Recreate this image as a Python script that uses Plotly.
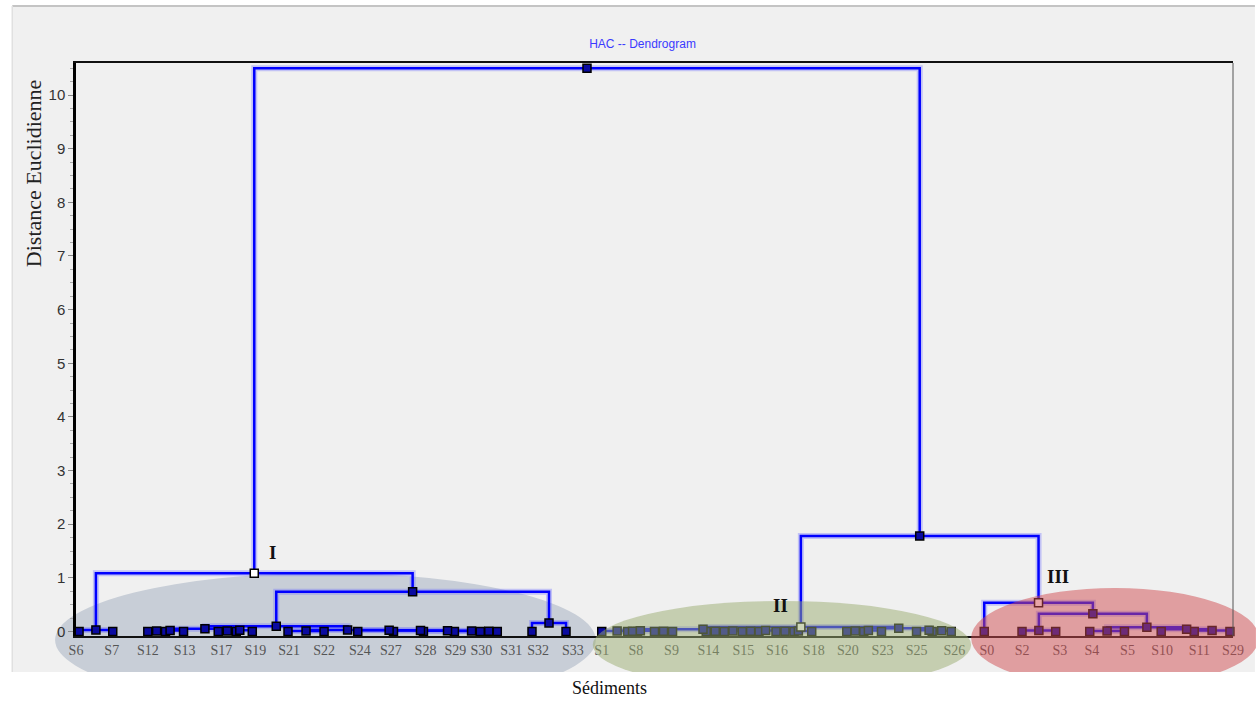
import plotly.graph_objects as go

# ---------------- data ----------------
# leaf positions along the x axis (label-spacing units), in dendrogram order
leaf_pos = [0.09, 1.08, 2.11, 2.63, 3.16, 4.18, 4.71, 5.18, 6.23, 7.29, 8.28, 9.33,
            10.21, 11.12, 11.88, 12.38, 13.40, 14.40,
            15.45, 16.21, 16.50, 17.00, 17.53, 18.52, 19.05, 19.58, 20.07, 20.57,
            21.10, 21.62, 22.65, 23.15, 23.67, 24.70, 25.16, 25.72,
            26.69, 27.80, 28.79, 29.79, 30.81, 31.89, 32.86, 33.91]

# linkage (scipy style: ids < n_leaves are leaves, id n_leaves+k is merge k)
merge_left = [0, 2, 45, 5, 47, 46, 8, 14, 13, 12, 11, 10, 50, 49, 16, 57, 44,
              19, 18, 21, 62, 23, 25, 65, 27, 68, 67, 64, 30, 72, 34, 33, 73, 71,
              37, 39, 42, 41, 79, 78, 36, 77, 60]
merge_right = [1, 3, 4, 6, 7, 48, 9, 15, 51, 52, 53, 54, 55, 56, 17, 58, 59,
               20, 61, 22, 63, 24, 26, 66, 28, 29, 69, 70, 31, 32, 35, 74, 75, 76,
               38, 40, 43, 80, 81, 82, 83, 84, 85]
merge_height = [0.03, 0.01, 0.02, 0.01, 0.025, 0.05, 0.01, 0.005, 0.01, 0.015, 0.02,
                0.025, 0.03, 0.10, 0.16, 0.74, 1.085,
                0.005, 0.01, 0.005, 0.015, 0.005, 0.005, 0.01, 0.005, 0.01, 0.02,
                0.04, 0.01, 0.02, 0.015, 0.025, 0.06, 0.085,
                0.02, 0.01, 0.02, 0.04, 0.08, 0.33, 0.535, 1.78, 10.5]

highlight_nodes = [60, 77, 84]   # cluster roots I, II, III

tick_labels = ["S6", "S7", "S12", "S13", "S17", "S19", "S21", "S22", "S24", "S27",
               "S28", "S29", "S30", "S31", "S32", "S33", "S1", "S8", "S9", "S14",
               "S15", "S16", "S18", "S20", "S23", "S25", "S26", "S0", "S2", "S3",
               "S4", "S5", "S10", "S11", "S29"]
tick_pos = [0.0, 1.05, 2.11, 3.19, 4.27, 5.27, 6.26, 7.29, 8.34, 9.25, 10.27,
            11.15, 11.91, 12.79, 13.58, 14.60, 15.45, 16.45, 17.50, 18.58, 19.61,
            20.60, 21.68, 22.68, 23.70, 24.70, 25.81, 26.77, 27.80, 28.91, 29.85,
            30.90, 31.92, 33.01, 34.0]

cluster_names = ["I", "II", "III"]
cluster_label_x = [5.76, 20.69, 28.85]
cluster_label_y = [1.48, 0.49, 1.03]

# ---------------- build dendrogram geometry ----------------
n = len(leaf_pos)
node_x = list(leaf_pos)
node_y = [0.0] * n
lx, ly = [], []
for l, r, h in zip(merge_left, merge_right, merge_height):
    xl, xr = node_x[l], node_x[r]
    lx += [xl, xl, xr, xr, None]
    ly += [node_y[l], h, h, node_y[r], None]
    node_x.append((xl + xr) / 2)
    node_y.append(h)

fill = ["#ffffff" if i in highlight_nodes else "#0a0aa0" for i in range(len(node_x))]

fig = go.Figure()
fig.add_trace(go.Scatter(x=lx, y=ly, mode="lines",
                         line=dict(color="rgba(110,110,255,0.35)", width=6),
                         hoverinfo="skip", showlegend=False, cliponaxis=False))
fig.add_trace(go.Scatter(x=lx, y=ly, mode="lines",
                         line=dict(color="#0000ff", width=2.5),
                         hoverinfo="skip", showlegend=False, cliponaxis=False))
fig.add_trace(go.Scatter(x=node_x, y=node_y, mode="markers",
                         marker=dict(symbol="square", size=8, color=fill,
                                     line=dict(color="#000000", width=1.5)),
                         hoverinfo="skip", showlegend=False, cliponaxis=False))

# ---------------- decorations ----------------
W, H = 1256, 701
L, R, T, B = 76, 18, 63, 65
pw, ph = W - L - R, H - T - B


def px(x):
    return (x - L) / pw


def py(y):
    return (H - B - y) / ph


shapes = [
    dict(type="rect", xref="paper", yref="paper", x0=px(12), x1=px(1260), y0=py(672), y1=py(6),
         fillcolor="#f0f0f0", line=dict(width=0), layer="below"),
    dict(type="line", xref="paper", yref="paper", x0=px(12), x1=px(1260), y0=py(6), y1=py(6),
         line=dict(color="#c4c4c4", width=2), layer="below"),
    dict(type="line", xref="paper", yref="paper", x0=px(12), x1=px(12), y0=py(672), y1=py(6),
         line=dict(color="#e0e0e0", width=1.5), layer="below"),
    dict(type="circle", xref="paper", yref="paper", x0=px(55), x1=px(598), y0=py(707), y1=py(573),
         fillcolor="#c8ced7", line=dict(width=0), layer="below"),
    dict(type="circle", xref="paper", yref="paper", x0=px(595), x1=px(975), y0=py(689), y1=py(601),
         fillcolor="rgb(154,172,112)", opacity=0.5, line=dict(width=0), layer="above"),
    dict(type="circle", xref="paper", yref="paper", x0=px(975), x1=px(1264), y0=py(688), y1=py(588),
         fillcolor="rgb(208,76,80)", opacity=0.5, line=dict(width=0), layer="above"),
    dict(type="rect", xref="paper", yref="paper", x0=px(0), x1=px(1260), y0=py(705), y1=py(672),
         fillcolor="#ffffff", line=dict(width=0), layer="above"),
    dict(type="line", xref="paper", yref="paper", x0=1, x1=1, y0=0, y1=1,
         line=dict(color="#555555", width=1), layer="above"),
]

annotations = [
    dict(text="Distance Euclidienne", xref="paper", yref="paper", x=px(33), y=py(173),
         xanchor="center", yanchor="middle", textangle=-90, showarrow=False,
         font=dict(family="Liberation Serif", size=22, color="#222222")),
    dict(text="Sédiments", xref="paper", yref="paper", x=px(612), y=py(688),
         xanchor="center", yanchor="middle", showarrow=False,
         font=dict(family="Liberation Serif", size=18, color="#111111")),
]
for name, cx, cy in zip(cluster_names, cluster_label_x, cluster_label_y):
    annotations.append(dict(text="<b>%s</b>" % name, x=cx, y=cy, xref="x", yref="y",
                            showarrow=False,
                            font=dict(family="Liberation Serif", size=19, color="#111111")))

fig.update_layout(
    width=W, height=H, autosize=False,
    margin=dict(l=L, r=R, t=T, b=B, pad=0),
    paper_bgcolor="#ffffff", plot_bgcolor="rgba(0,0,0,0)",
    title=dict(text="HAC -- Dendrogram", x=px(645), xref="paper", xanchor="center",
               y=1 - 44 / H, yanchor="middle",
               font=dict(family="Liberation Sans", size=12, color="#3a3aff")),
    shapes=shapes, annotations=annotations,
    xaxis=dict(range=[0, 34], tickmode="array", tickvals=tick_pos, ticktext=tick_labels,
               ticks="", showgrid=False, zeroline=False, showline=True,
               linecolor="#111111", linewidth=2, mirror=True,
               tickfont=dict(family="Liberation Serif", size=14, color="#555555")),
    yaxis=dict(range=[-0.084, 10.597], tickmode="linear", tick0=0, dtick=1,
               ticks="outside", ticklen=5, tickcolor="#888888", tickwidth=1,
               minor=dict(dtick=0.25, ticks="outside", ticklen=3, tickcolor="#aaaaaa"),
               showgrid=False, zeroline=False, showline=True,
               linecolor="#000000", linewidth=2.5,
               tickfont=dict(family="Liberation Sans", size=15, color="#333333")),
)

fig.write_html("out.html", config={"displayModeBar": False},
               post_script="document.body.style.margin='0';")
